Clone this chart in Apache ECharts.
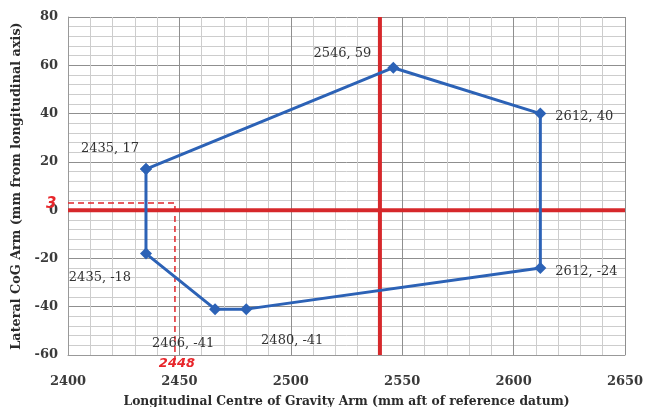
<!DOCTYPE html>
<html>
<head>
<meta charset="utf-8">
<script src="https://cdn.jsdelivr.net/npm/echarts@6/dist/echarts.min.js"></script>
<style>
  html, body { margin: 0; padding: 0; background: #fff; }
  #chart { width: 646px; height: 407px; }
</style>
</head>
<body>
<div id="chart"></div>
<script>
// CoG envelope vertices (longitudinal arm, lateral arm), closed polygon
const envelopeX = [2435, 2546, 2612, 2612, 2480, 2466, 2435, 2435];
const envelopeY = [17, 59, 40, -24, -41, -41, -18, 17];

// Reference axes (red) through the datum centre
const refLongX = [2540, 2540];
const refLongY = [-60, 80];
const refLatX = [2400, 2650];
const refLatY = [0, 0];

// Hand-marked design point
const markX = [2400, 2448, 2448];
const markY = [3, 3, -62];
const markText = ['3', '', '2448'];

const xTicks = { min: 2400, max: 2650, step: 50 };
const yTicks = { min: -60, max: 80, step: 20 };

const zip = (xs, ys) => xs.map((x, i) => [x, ys[i]]);

// label placement per vertex: [position, offset]; null = no label
const labelPlace = [
  ['top', [-36, -3]],
  ['left', [-11, -14]],
  ['right', [4, 3]],
  ['right', [4, 4]],
  ['bottom', [46, 14]],
  ['bottom', [-32, 17]],
  ['bottom', [-46, 7]],
  null
];

const envelopeData = zip(envelopeX, envelopeY).map((p, i) => {
  const pl = labelPlace[i];
  return {
    value: p,
    label: pl
      ? { show: true, position: pl[0], offset: pl[1], formatter: p[0] + ', ' + p[1] }
      : { show: false }
  };
});

const axisFont = 'DejaVu Serif';

const chart = echarts.init(document.getElementById('chart'), null, { renderer: 'canvas' });
chart.setOption({
  animation: false,
  backgroundColor: '#ffffff',
  grid: { left: 68, right: 21, top: 17, bottom: 52, containLabel: false, outerBoundsMode: 'none' },
  xAxis: {
    type: 'value',
    min: xTicks.min, max: xTicks.max, interval: xTicks.step,
    name: 'Longitudinal Centre of Gravity Arm (mm aft of reference datum)',
    nameLocation: 'middle', nameGap: 41,
    nameTextStyle: { fontFamily: axisFont, fontWeight: 'bold', fontSize: 12.3, color: '#2b2b2b' },
    axisLine: { show: true, onZero: false, lineStyle: { color: '#999', width: 1 } },
    axisTick: { show: false },
    axisLabel: {
      fontFamily: axisFont, fontWeight: 'bold', fontSize: 13, color: '#3a3a3a', margin: 20,
      formatter: v => String(v)
    },
    splitLine: { show: true, lineStyle: { color: '#8f8f8f', width: 1 } },
    minorTick: { show: false, splitNumber: 5 },
    minorSplitLine: { show: true, lineStyle: { color: '#cdcdcd', width: 1 } }
  },
  yAxis: {
    type: 'value',
    min: yTicks.min, max: yTicks.max, interval: yTicks.step,
    name: 'Lateral CoG Arm (mm from longitudinal axis)',
    nameLocation: 'middle', nameGap: 36, nameRotate: 90,
    nameTextStyle: { fontFamily: axisFont, fontWeight: 'bold', fontSize: 12.8, color: '#2b2b2b' },
    axisLine: { show: true, onZero: false, lineStyle: { color: '#999', width: 1 } },
    axisTick: { show: false },
    axisLabel: {
      fontFamily: axisFont, fontWeight: 'bold', fontSize: 13, color: '#3a3a3a', margin: 10,
      formatter: v => String(v)
    },
    splitLine: { show: true, lineStyle: { color: '#8f8f8f', width: 1 } },
    minorTick: { show: false, splitNumber: 5 },
    minorSplitLine: { show: true, lineStyle: { color: '#cdcdcd', width: 1 } }
  },
  series: [
    {
      name: 'Lateral datum',
      type: 'line',
      data: zip(refLatX, refLatY),
      symbol: 'none',
      lineStyle: { color: '#d6282b', width: 4 },
      z: 3
    },
    {
      name: 'Longitudinal datum',
      type: 'line',
      data: zip(refLongX, refLongY),
      symbol: 'none',
      lineStyle: { color: '#d6282b', width: 4 },
      z: 3
    },
    {
      name: 'Design point',
      type: 'line',
      data: zip(markX, markY).map((p, i) => ({
        value: p,
        label: markText[i] ? {
          show: true,
          formatter: markText[i],
          position: i === 0 ? 'left' : 'bottom',
          offset: i === 0 ? [-6, 1] : [2, -8],
          fontFamily: 'DejaVu Sans', fontStyle: 'italic', fontSize: i === 0 ? 15 : 13,
          fontWeight: 'bold', color: '#e8262b'
        } : { show: false }
      })),
      symbol: 'circle',
      symbolSize: 1,
      showAllSymbol: true,
      itemStyle: { color: 'rgba(0,0,0,0)' },
      clip: false,
      lineStyle: { color: '#e0262b', width: 1.5, type: [6, 4] },
      z: 4
    },
    {
      name: 'CoG envelope',
      type: 'line',
      data: envelopeData,
      symbol: 'diamond',
      symbolSize: 12,
      showAllSymbol: true,
      itemStyle: { color: '#2c62b6' },
      lineStyle: { color: '#2c62b6', width: 3 },
      label: { fontFamily: axisFont, fontSize: 13, color: '#333' },
      z: 5
    }
  ]
});
</script>
</body>
</html>
